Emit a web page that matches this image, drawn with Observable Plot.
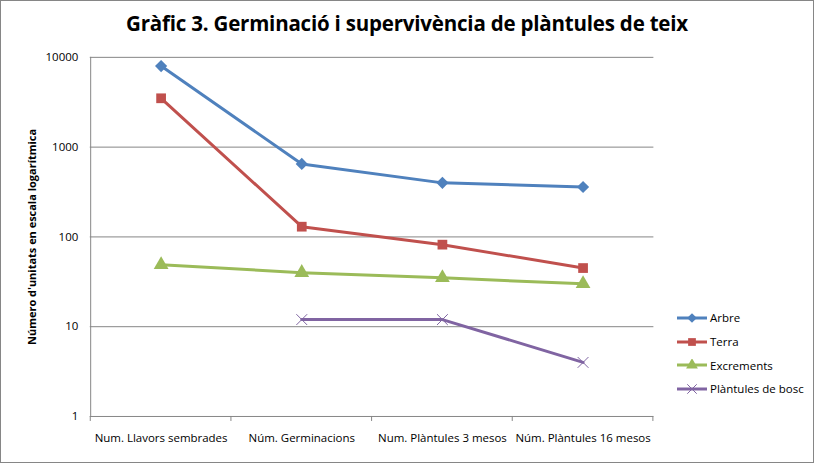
<!DOCTYPE html>
<html>
<head>
<meta charset="utf-8">
<script src="https://cdn.jsdelivr.net/npm/d3@7"></script>
<script src="https://cdn.jsdelivr.net/npm/@observablehq/plot@0.6"></script>
<style>
  html, body { margin: 0; padding: 0; background: #fff; }
  #wrap { position: relative; width: 812px; height: 461px; border: 1px solid #868686; overflow: hidden; }
  #wrap > svg { position: absolute; left: -1px; top: -1px; }
  #title { position: absolute; left: 0; top: 8px; width: 812px; text-align: center;
           font-family: "Open Sans", sans-serif; font-weight: bold; font-size: 20.5px; color: #000; letter-spacing: -0.2px; }
  #legend { position: absolute; left: 675px; top: 305px; font-family: "Open Sans", sans-serif; font-size: 11.5px; color: #000; }
  .item { display: flex; align-items: center; height: 23.7px; }
  .item svg { margin-right: 2px; }
</style>
</head>
<body>
<div id="wrap">
  <div id="title">Gràfic 3. Germinació i supervivència de plàntules de teix</div>
  <div id="legend"></div>
</div>
<script>
const categories = ["Num. Llavors sembrades", "Núm. Germinacions", "Num. Plàntules 3 mesos", "Núm. Plàntules 16 mesos"];
const seriesNames = ["Arbre", "Terra", "Excrements", "Plàntules de bosc"];
const seriesColors = ["#4F81BD", "#C0504D", "#9BBB59", "#8064A2"];
const seriesSymbols = ["diamond2", "square", "triangle", "times"];
const arbre = [8000, 650, 400, 360];
const terra = [3500, 130, 82, 45];
const excrements = [49, 40, 35, 30];
const plantules = [null, 12, 12, 4];
const yTicks = [1, 10, 100, 1000, 10000];

const seriesValues = [arbre, terra, excrements, plantules];
const rows = [];
seriesNames.forEach((s, i) => {
  seriesValues[i].forEach((v, j) => {
    if (v != null) rows.push({series: s, cat: categories[j], value: v});
  });
});

const font = "'Open Sans', sans-serif";
const chart = Plot.plot({
  width: 814,
  height: 463,
  marginLeft: 90,
  marginRight: 159,
  marginTop: 57,
  marginBottom: 46,
  style: {fontFamily: font, fontSize: "11.5px", color: "#000", background: "transparent"},
  x: {type: "point", domain: categories, padding: 0.5, label: null},
  y: {type: "log", domain: [1, 10000], label: null},
  color: {domain: seriesNames, range: seriesColors},
  symbol: {domain: seriesNames, range: seriesSymbols},
  marks: [
    Plot.ruleY(yTicks.slice(1), {stroke: "#868686", strokeWidth: 1}),
    Plot.ruleX([categories[0]], {stroke: "#868686", dx: -70.6}),
    Plot.ruleY([1], {stroke: "#868686"}),
    Plot.axisY({ticks: yTicks, tickFormat: d => String(d), tickSize: 0, tickPadding: 12,
      label: "Número d'unitats en escala logarítmica", labelAnchor: "center", labelArrow: "none", labelOffset: 62}),
    Plot.axisX({tickSize: 0, tickPadding: 17}),
    Plot.line(rows, {x: "cat", y: "value", z: "series", stroke: "series", strokeWidth: 3}),
    Plot.dot(rows.filter(d => d.series !== "Plàntules de bosc"), {x: "cat", y: "value", symbol: "series", fill: "series", stroke: "none", r: 5.5}),
    Plot.dot(rows.filter(d => d.series === "Plàntules de bosc"), {x: "cat", y: "value", symbol: "series", stroke: "series", strokeWidth: 1, r: 5})
  ]
});

// style axis label
d3.select(chart).selectAll("g[aria-label='y-axis label'] text")
  .style("font-weight", "bold").style("font-size", "11px");

// bottom category tick marks at band boundaries, derived from the x scale
const xs = chart.scale("x");
const step = xs.apply(categories[1]) - xs.apply(categories[0]);
const y0 = chart.scale("y").apply(1);
const g = d3.select(chart).append("g").attr("stroke", "#868686");
[...categories.map(c => xs.apply(c) - step / 2), xs.apply(categories[categories.length - 1]) + step / 2]
  .forEach(x => g.append("line").attr("x1", x).attr("x2", x).attr("y1", y0).attr("y2", y0 + 5));

document.getElementById("wrap").appendChild(chart);

// legend
const leg = d3.select("#legend");
const sym = {diamond2: d3.symbolDiamond2, square: d3.symbolSquare, triangle: d3.symbolTriangle, times: d3.symbolTimes};
seriesNames.forEach((s, i) => {
  const it = leg.append("div").attr("class", "item");
  const sv = it.append("svg").attr("width", 32).attr("height", 12);
  sv.append("line").attr("x1", 1).attr("x2", 31).attr("y1", 6).attr("y2", 6).attr("stroke", seriesColors[i]).attr("stroke-width", 3);
  const p = sv.append("path").attr("transform", "translate(16,6)")
    .attr("d", d3.symbol(sym[seriesSymbols[i]], 60)());
  if (seriesSymbols[i] === "times") p.attr("fill", "none").attr("stroke", seriesColors[i]).attr("stroke-width", 1);
  else p.attr("fill", seriesColors[i]);
  it.append("span").text(s);
});
</script>
</body>
</html>
